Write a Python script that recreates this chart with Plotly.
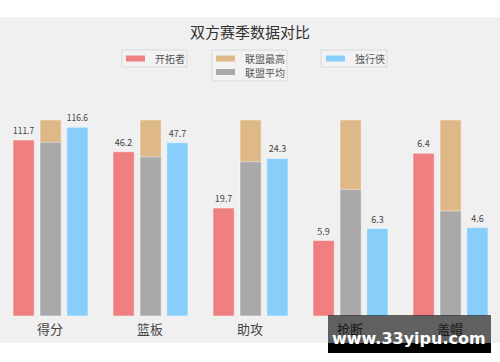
import plotly.graph_objects as go

categories = ["得分", "篮板", "助攻", "抢断", "盖帽"]
series_names = ["开拓者", "联盟最高", "联盟平均", "独行侠"]
blazers_labels = [111.7, 46.2, 19.7, 5.9, 6.4]
mavs_labels = [116.6, 47.7, 24.3, 6.3, 4.6]
# relative bar heights as drawn (league max = 1)
blazers_rel = [0.898, 0.838, 0.551, 0.385, 0.830]
league_max_rel = [1.0, 1.0, 1.0, 1.0, 1.0]
league_avg_rel = [0.886, 0.812, 0.787, 0.646, 0.536]
mavs_rel = [0.963, 0.884, 0.804, 0.446, 0.451]

RED = "#F08080"
TAN = "#DEB887"
GRAY = "#A9A9A9"
BLUE = "#87CEFA"
BG = "#F0F0F0"
FONT = "Noto Sans CJK SC"

W, H = 500, 362
T, B = 17, 46
PH = H - T - B


def px(x):
    return x / W


def py(y):
    return (H - B - y) / PH


fig = go.Figure()
edge = dict(color="rgba(255,255,255,0.45)", width=1)
fig.add_trace(go.Bar(name=series_names[0], x=categories, y=blazers_rel, width=0.212, offset=-0.37,
                     marker=dict(color=RED, line=edge),
                     text=[f"{v:.1f}" for v in blazers_labels], textposition="outside",
                     textfont=dict(size=9, color="#444", family=FONT), cliponaxis=False))
fig.add_trace(go.Bar(name=series_names[1], x=categories, y=league_max_rel, width=0.212, offset=-0.10,
                     marker=dict(color=TAN, line=edge)))
fig.add_trace(go.Bar(name=series_names[2], x=categories, y=league_avg_rel, width=0.212, offset=-0.10,
                     marker=dict(color=GRAY, line=edge)))
fig.add_trace(go.Bar(name=series_names[3], x=categories, y=mavs_rel, width=0.212, offset=0.168,
                     marker=dict(color=BLUE, line=edge),
                     text=[f"{v:.1f}" for v in mavs_labels], textposition="outside",
                     textfont=dict(size=9, color="#444", family=FONT), cliponaxis=False))

shapes = []
# white bands top and bottom
shapes.append(dict(type="rect", xref="paper", yref="paper", x0=-0.01, x1=1.01, y0=py(17), y1=py(-5),
                   fillcolor="white", line=dict(width=0), layer="below"))
shapes.append(dict(type="rect", xref="paper", yref="paper", x0=-0.01, x1=1.01, y0=py(367), y1=py(343),
                   fillcolor="white", line=dict(width=0), layer="below"))

annotations = []
# legend boxes
legend_boxes = [(122, 50, 187, 67), (212, 50, 287, 81), (321, 50, 387, 67)]
for (x0, y0, x1, y1) in legend_boxes:
    shapes.append(dict(type="rect", xref="paper", yref="paper", x0=px(x0), x1=px(x1), y0=py(y1), y1=py(y0),
                       fillcolor="#F2F2F2", line=dict(color="#DADADA", width=1), layer="below"))
legend_items = [(series_names[0], RED, 126, 58.5, 153),
                (series_names[1], TAN, 216, 58.5, 243),
                (series_names[2], GRAY, 216, 72, 243),
                (series_names[3], BLUE, 326, 58.5, 353)]
for name, col, sx, cy, tx in legend_items:
    shapes.append(dict(type="rect", xref="paper", yref="paper", x0=px(sx), x1=px(sx + 19),
                       y0=py(cy + 3), y1=py(cy - 3), fillcolor=col, line=dict(width=0)))
    annotations.append(dict(text=name, x=px(tx), y=py(cy), xref="paper", yref="paper",
                            xanchor="left", yanchor="middle", showarrow=False,
                            font=dict(size=10, color="#555", family=FONT)))

# watermark
shapes.append(dict(type="rect", xref="paper", yref="paper", x0=px(328), x1=px(491), y0=py(343), y1=py(315),
                   fillcolor="rgba(0,0,0,0.6)", line=dict(width=0)))
shapes.append(dict(type="rect", xref="paper", yref="paper", x0=px(328), x1=px(491), y0=py(353), y1=py(343),
                   fillcolor="black", line=dict(width=0)))
annotations.append(dict(text="<b>www.33yipu.com</b>", x=px(409), y=py(338), xref="paper", yref="paper",
                        xanchor="center", yanchor="middle", showarrow=False,
                        font=dict(size=16, color="white", family="DejaVu Sans")))

fig.update_layout(
    width=W, height=H,
    margin=dict(l=0, r=0, t=T, b=B, pad=0),
    paper_bgcolor=BG, plot_bgcolor=BG,
    barmode="overlay", showlegend=False,
    title=dict(text="双方赛季数据对比", x=0.5, xanchor="center", y=py(33) * PH / H + B / H, yanchor="middle",
               font=dict(size=15, color="#333", family=FONT)),
    xaxis=dict(range=[-0.5, 4.5], showgrid=False, zeroline=False, showline=False, ticks="",
               ticklabelstandoff=4,
               tickfont=dict(size=13, color="#444", family=FONT), fixedrange=True),
    yaxis=dict(range=[0, PH / 196.0], visible=False, showgrid=False, zeroline=False, fixedrange=True),
    shapes=shapes, annotations=annotations,
    font=dict(family=FONT),
)

fig.write_html("out.html")
